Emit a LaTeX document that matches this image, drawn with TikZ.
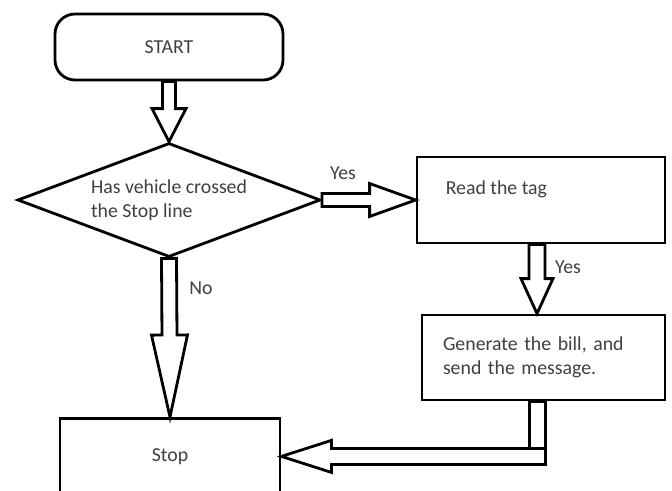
\documentclass[tikz,border=0pt]{standalone}
\usepackage{fontspec}
\setmainfont{Carlito}
\usetikzlibrary{shapes.geometric,calc}

\newcommand{\flowfont}{\fontsize{19.8}{23.5}\selectfont}
\tikzset{
  flowtext/.style={font=\flowfont, text=black!75, inner sep=0pt},
  flowbox/.style={draw, line width=2.8pt, rectangle, font=\flowfont, text=black!75},
  startbox/.style={flowbox, rounded corners=20pt, minimum width=228pt, minimum height=66pt},
  decidebox/.style={draw, line width=2.8pt, diamond, shape aspect=2.66, minimum width=303pt,
    minimum height=114pt, inner sep=1pt, align=left, font=\flowfont, text=black!75},
  blockarrow/.style={draw, line width=2.8pt, fill=white, line join=miter}
}
%%% hollow block arrow: shaft half width, head half width, head length, from, to
\newcommand{\hollowarrow}[5]{%
  \path ($(#5)!#3!(#4)$) coordinate (hb);
  \draw[blockarrow] ($(#4)!#1!90:(#5)$) -- ($(hb)!#1!90:(#5)$) -- ($(hb)!#2!90:(#5)$) -- (#5)
    -- ($(hb)!#2!-90:(#5)$) -- ($(hb)!#1!-90:(#5)$) -- ($(#4)!#1!-90:(#5)$) -- cycle;}

\begin{document}
\begin{tikzpicture}[x=1pt,y=-1pt]
\clip (0,0) rectangle (672,490);
\fill[white] (0,0) rectangle (672,490);
% boxes
\node[startbox] (start) at (169,47) {START};
\node[decidebox] (decide) at (169,200) {Has vehicle crossed\\the Stop line};
\node[flowbox, minimum width=248pt, minimum height=86pt] (read) at (541,200) {};
\node[flowtext, anchor=west] (readtext) at ([xshift=30pt,yshift=11pt]read.west) {Read the tag};
\node[flowbox, text width=201pt, inner xsep=21pt, minimum height=85pt, align=left] (gen) at (543.5,357.5)
  {Generate the bill, and\\send the message.};
\node[flowbox, anchor=north, minimum width=220pt, minimum height=76pt] (stop) at (170,417) {Stop};
% arrows
\coordinate (readout) at ([xshift=-4pt]read.south);
\coordinate (genout) at ([xshift=-6pt]gen.south);
\hollowarrow{6.5pt}{17pt}{33pt}{start.south}{decide.north}
\hollowarrow{6.5pt}{16.5pt}{46pt}{decide.east}{read.west}
\hollowarrow{8pt}{16pt}{35pt}{readout}{readout |- gen.north}
\hollowarrow{7.5pt}{18pt}{82pt}{decide.south}{stop.north}
\coordinate (bend) at (genout |- stop.east);
\coordinate (bendr) at ($(bend)+(8,0)$);
\draw[blockarrow] ($(genout)+(-8,0)$) rectangle ($(bend)+(8,8)$);
\hollowarrow{8pt}{16pt}{50pt}{bendr}{stop.east}
% labels
\node[flowtext] (yesright) at (343,173) {Yes};
\node[flowtext] (yesdown) at (568,267) {Yes};
\node[flowtext] (nolabel) at (201,288) {No};
\end{tikzpicture}
\end{document}
